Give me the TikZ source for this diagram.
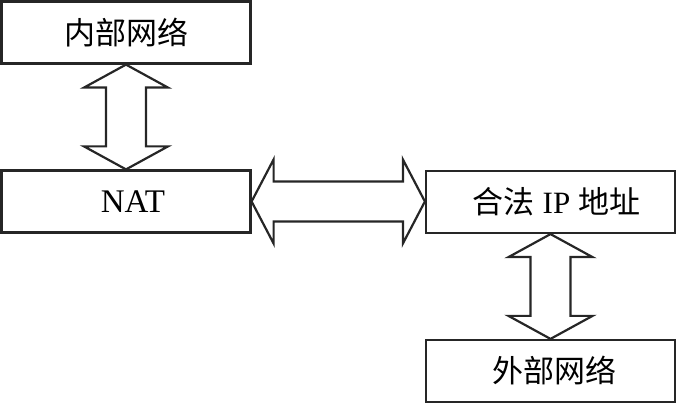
\documentclass[tikz,border=0pt]{standalone}
\usepackage{fontspec}
\setmainfont{Liberation Serif}
\newfontfamily\cjk{Noto Sans CJK SC}
\usetikzlibrary{positioning,calc}
\tikzset{
  box/.style   ={draw=black!85, line width=2.2pt, minimum width=249pt, minimum height=62pt, inner sep=0pt, font=\fontsize{31}{33}\selectfont},
  bigarr/.style={draw=black!85, line width=2.2pt, line join=miter},
}

\begin{document}
\begin{tikzpicture}[x=1pt,y=1pt]
  \useasboundingbox (0,0) rectangle (677,404);
  % left column and right column boxes
  \node[box] (inner) at (126,371.5) {\cjk 内部网络};
  \node[box] (nat)   at (126,202.5) {\hspace{14pt}\fontsize{33}{35}\selectfont NAT};
  \node[box] (legal) at (550.5,202) {\hspace{12pt}{\cjk 合法} IP {\cjk 地址}};
  \node[box] (outer) at (550.5,33)  {\hspace{8pt}\cjk 外部网络};

  % hollow double arrows between the boxes
  \draw[bigarr] let \p1=(inner.south), \p2=(nat.north) in
    (\x1,\y1) -- (\x1+42,\y1-23) -- (\x1+20,\y1-23) -- (\x2+20,\y2+23) -- (\x2+42,\y2+23)
    -- (\x2,\y2) -- (\x2-42,\y2+23) -- (\x2-20,\y2+23) -- (\x1-20,\y1-23) -- (\x1-42,\y1-23) -- cycle;
  \draw[bigarr] let \p1=(nat.east), \p2=(legal.west) in
    (\x1,\y1) -- (\x1+22,\y1+42) -- (\x1+22,\y1+20) -- (\x2-22,\y1+20) -- (\x2-22,\y1+42)
    -- (\x2,\y1) -- (\x2-22,\y1-42) -- (\x2-22,\y1-20) -- (\x1+22,\y1-20) -- (\x1+22,\y1-42) -- cycle;
  \draw[bigarr] let \p1=(legal.south), \p2=(outer.north) in
    (\x1,\y1) -- (\x1+42,\y1-23) -- (\x1+20,\y1-23) -- (\x2+20,\y2+23) -- (\x2+42,\y2+23)
    -- (\x2,\y2) -- (\x2-42,\y2+23) -- (\x2-20,\y2+23) -- (\x1-20,\y1-23) -- (\x1-42,\y1-23) -- cycle;
\end{tikzpicture}
\end{document}
